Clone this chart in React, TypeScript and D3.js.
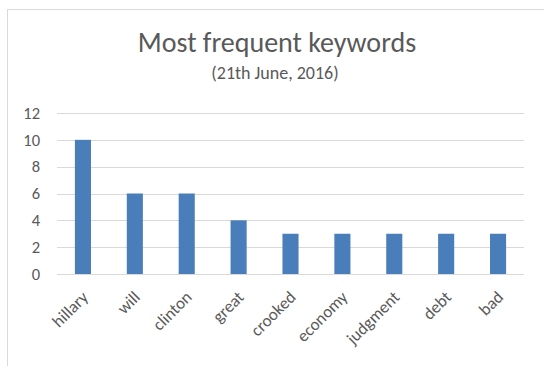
import React from "react";
import * as d3 from "d3";

const categories = ["hillary", "will", "clinton", "great", "crooked", "economy", "judgment", "debt", "bad"];
const values = [10, 6, 6, 4, 3, 3, 3, 3, 3];
const yTicks = [0, 2, 4, 6, 8, 10, 12];
const title = "Most frequent keywords";
const subtitle = "(21th June, 2016)";

const W = 544;
const H = 366;
const FONT = "Calibri, Carlito, Lato, sans-serif";
const TEXT = "#595959";

export default function App() {
  const x = d3.scaleBand<string>().domain(categories).range([57, 524]).paddingInner(0.69).paddingOuter(0.345);
  const y = d3.scaleLinear().domain([0, 12]).range([274, 113]);
  return (
    <svg width={W} height={H} style={{ position: "absolute", left: 0, top: 0, background: "#fff" }}>
      <rect x={0} y={0} width={W} height={H} fill="#fff" />
      <rect x={7.5} y={9.5} width={540} height={370} fill="#fff" stroke="#d9d9d9" strokeWidth={1} />
      <text x={277} y={52} textAnchor="middle" fontFamily={FONT} fontSize={28} fill={TEXT}>{title}</text>
      <text x={275} y={79} textAnchor="middle" fontFamily={FONT} fontSize={18} fill={TEXT}>{subtitle}</text>
      {yTicks.map((t) => (
        <g key={t}>
          <line x1={57} x2={524} y1={Math.round(y(t)) + 0.5} y2={Math.round(y(t)) + 0.5} stroke="#d9d9d9" strokeWidth={1} />
          <text x={40} y={y(t)} dy="0.35em" textAnchor="end" fontFamily={FONT} fontSize={16.5} fill={TEXT}>{t}</text>
        </g>
      ))}
      {categories.map((c, i) => (
        <rect key={c} x={x(c)} y={y(values[i])} width={x.bandwidth()} height={y(0) - y(values[i])} fill="#4a7ebb" />
      ))}
      {categories.map((c) => {
        const cx = (x(c) as number) + x.bandwidth() / 2;
        return (
          <text key={c} transform={`translate(${cx + 2},${294}) rotate(-45)`} textAnchor="end" dy="0.35em" fontFamily={FONT} fontSize={17} fill={TEXT}>{c}</text>
        );
      })}
    </svg>
  );
}
